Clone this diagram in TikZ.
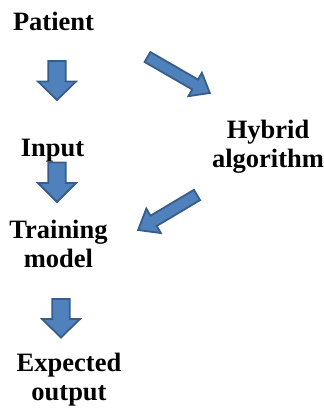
\documentclass[tikz,border=0pt]{standalone}
\usepackage{fontspec}
\setmainfont{Liberation Serif}
\begin{document}
\begin{tikzpicture}[x=1pt,y=1pt,
  label/.style={font=\fontsize{26.5}{29}\selectfont\bfseries, align=center, inner sep=0pt, anchor=base},
  barrowstyle/.style={fill={rgb,255:red,79;green,129;blue,189}, draw={rgb,255:red,56;green,93;blue,138}, line width=1.8pt, line join=miter}]
\useasboundingbox (0,0) rectangle (324,-410);

% block arrow: #1 tail, #2 angle, #3 length, #4 shaft width, #5 head width, #6 head length
\newcommand\blockarrow[6]{%
  \begin{scope}[shift={#1}, rotate=#2]
    \draw[barrowstyle] (0,-#4/2) -- (#3-#6,-#4/2) -- (#3-#6,-#5/2) -- (#3,0)
      -- (#3-#6,#5/2) -- (#3-#6,#4/2) -- (0,#4/2) -- cycle;
  \end{scope}}

% labels (base anchor sits on the last line)
\node[label] (patient) at (53.5,-30) {Patient};
\node[label] (input) at (52.5,-156) {Input};
\node[label] (hybrid) at (268,-167.5) {Hybrid\\algorithm};
\node[label] (training) at (58.5,-267.5) {Training\\model};
\node[label] (expected) at (69,-400) {Expected\\output};

% block arrows between the steps
\coordinate (a1) at (57,-61);
\coordinate (a2) at (57,-162.5);
\coordinate (a3) at (61,-299);
\coordinate (a4) at (147.5,-57);
\coordinate (a5) at (197,-195);
\blockarrow{(a1)}{-90}{39}{17.5}{38}{18.5}
\blockarrow{(a2)}{-90}{39.5}{17.5}{38}{19}
\blockarrow{(a3)}{-90}{38.5}{17.5}{38}{18.5}
\blockarrow{(a4)}{-30}{72}{11.5}{27}{17}
\blockarrow{(a5)}{210.75}{68.5}{12}{28.5}{18}
\end{tikzpicture}
\end{document}
